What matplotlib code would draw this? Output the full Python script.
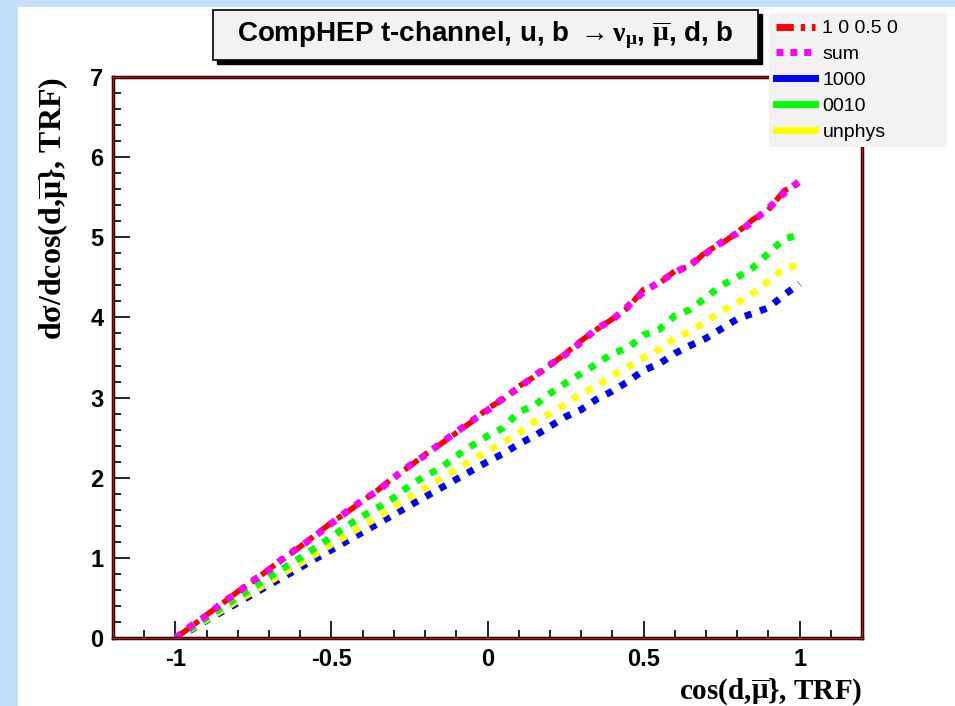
import numpy as np
import matplotlib.pyplot as plt
from matplotlib.patches import Rectangle
from matplotlib.lines import Line2D

plt.rcParams['mathtext.fontset'] = 'custom'
plt.rcParams['mathtext.rm'] = 'Liberation Serif:bold'
plt.rcParams['mathtext.it'] = 'Liberation Serif:italic:bold'
plt.rcParams['mathtext.bf'] = 'Liberation Serif:bold'

# data
x = np.round(np.arange(-1.0, 1.0001, 0.05), 2)
red = [0.00, 0.14, 0.29, 0.43, 0.58, 0.71, 0.86, 1.00, 1.14, 1.29, 1.44,
       1.57, 1.71, 1.85, 2.01, 2.14, 2.29, 2.42, 2.56, 2.70, 2.86,
       2.98, 3.14, 3.26, 3.40, 3.55, 3.71, 3.85, 3.98, 4.12, 4.35,
       4.42, 4.58, 4.64, 4.82, 4.92, 5.06, 5.22, 5.34, 5.58, 5.68]
summ = [0.00, 0.15, 0.28, 0.44, 0.57, 0.72, 0.85, 1.01, 1.14, 1.28, 1.43,
        1.58, 1.72, 1.84, 2.00, 2.15, 2.28, 2.43, 2.57, 2.71, 2.84,
        2.99, 3.12, 3.27, 3.41, 3.54, 3.69, 3.86, 3.97, 4.14, 4.32,
        4.44, 4.56, 4.66, 4.80, 4.94, 5.05, 5.20, 5.36, 5.55, 5.70]
green = [0.00, 0.12, 0.25, 0.38, 0.51, 0.63, 0.76, 0.88, 1.00, 1.13, 1.26,
         1.40, 1.52, 1.63, 1.75, 1.90, 2.02, 2.12, 2.27, 2.40, 2.52,
         2.62, 2.82, 2.90, 3.05, 3.18, 3.30, 3.42, 3.55, 3.62, 3.78,
         3.85, 4.02, 4.10, 4.25, 4.40, 4.50, 4.62, 4.80, 4.98, 5.03]
yellow = [0.00, 0.11, 0.23, 0.35, 0.47, 0.58, 0.70, 0.82, 0.93, 1.05, 1.17,
          1.28, 1.40, 1.51, 1.63, 1.75, 1.87, 1.98, 2.10, 2.22, 2.33,
          2.44, 2.56, 2.70, 2.80, 2.92, 3.05, 3.14, 3.28, 3.38, 3.50,
          3.60, 3.74, 3.83, 3.95, 4.08, 4.18, 4.30, 4.45, 4.62, 4.65]
blue = [0.00, 0.10, 0.22, 0.33, 0.44, 0.55, 0.66, 0.77, 0.88, 0.99, 1.10,
        1.21, 1.32, 1.43, 1.54, 1.65, 1.76, 1.87, 1.98, 2.09, 2.20,
        2.30, 2.42, 2.52, 2.64, 2.76, 2.85, 2.98, 3.08, 3.20, 3.34,
        3.42, 3.55, 3.65, 3.74, 3.86, 3.98, 4.05, 4.12, 4.28, 4.42]
labels = ['1 0 0.5 0', 'sum', '1000', '0010', 'unphys']

fig = plt.figure(figsize=(9.55, 7.06), dpi=100, facecolor='#c4dffa')
fig.patches.append(Rectangle((18/955, 0), 1, 1 - 7/706, transform=fig.transFigure,
                             facecolor='white', edgecolor='none', zorder=-10))

ax = fig.add_axes([113/955, 68/706, 749/955, 561/706])
dot = (0, (1, 1.3))
ax.plot(x, blue, color='#0000ff', lw=5, ls=dot, dash_capstyle='butt')
ax.plot(x, yellow, color='#ffff00', lw=5, ls=dot, dash_capstyle='butt')
ax.plot(x, green, color='#00ff00', lw=5, ls=dot, dash_capstyle='butt')
ax.plot(x, red, color='#ff0000', lw=4, ls=(0, (3, 1.2, 1, 1.2)), dash_capstyle='butt')
ax.plot(x, summ, color='#ff00ff', lw=5, ls=dot, dash_capstyle='butt')

ax.set_xlim(-1.2, 1.2)
ax.set_ylim(0, 7)
ax.set_xticks([-1, -0.5, 0, 0.5, 1])
ax.set_xticklabels(['-1', '-0.5', '0', '0.5', '1'])
ax.set_xticks(np.arange(-1.1, 1.15, 0.1), minor=True)
ax.set_yticks(range(8))
ax.set_yticks(np.arange(0, 7, 0.2), minor=True)
ax.tick_params(which='major', direction='in', length=12, width=1.2, pad=7,
               labelsize=17)
ax.tick_params(which='minor', direction='in', length=6, width=1.2)
for lab in ax.get_xticklabels() + ax.get_yticklabels():
    lab.set_fontweight('bold')
    lab.set_fontfamily('Liberation Sans')
for s in ax.spines.values():
    s.set_color('black')
    s.set_linewidth(2.5)
# red inner frame line
for xs, ys in [([0, 1], [0, 0]), ([0, 1], [1, 1]), ([0, 0], [0, 1]), ([1, 1], [0, 1])]:
    ax.plot(xs, ys, transform=ax.transAxes, color='#e00000', lw=1, clip_on=False, zorder=5)

ax.set_xlabel(r'cos(d,$\overline{\mathrm{\mu}}$}, TRF)', fontsize=21,
              fontfamily='Liberation Serif', fontweight='bold', loc='right', labelpad=4)
ax.set_ylabel(r'd$\mathrm{\sigma}$/dcos(d,$\overline{\mathrm{\mu}}$}, TRF)', fontsize=23,
              fontfamily='Liberation Serif', fontweight='bold', loc='top', labelpad=14)

# title box with shadow
fig.patches.append(Rectangle((217/955, 1 - 64/706), 545/955, 50/706, transform=fig.transFigure,
                             facecolor='black', edgecolor='black', zorder=5))
fig.patches.append(Rectangle((213/955, 1 - 60/706), 545/955, 50/706, transform=fig.transFigure,
                             facecolor='#f2f2f2', edgecolor='black', lw=1.2, zorder=6))
fig.text(485/955, 1 - 35/706,
         r'CompHEP t-channel, u, b $\rightarrow\mathrm{\nu_{\mu}}$, $\overline{\mathrm{\mu}}$, d, b',
         ha='center', va='center', fontsize=20, fontweight='bold',
         fontfamily='Liberation Sans', zorder=7)

handles = [Line2D([], [], color='#ff0000', lw=5, ls=(0, (2.5, 1, 0.6, 1))),
           Line2D([], [], color='#ff00ff', lw=5, ls=(0, (1, 1))),
           Line2D([], [], color='#0000ff', lw=5),
           Line2D([], [], color='#00ff00', lw=5),
           Line2D([], [], color='#ffff00', lw=5)]
leg = fig.legend(handles, labels, loc='upper left',
                 bbox_to_anchor=(769/955, 1 - 147/706, 178/955, 134/706), mode='expand',
                 frameon=True, facecolor='#f2f2f2', edgecolor='none', fancybox=False,
                 framealpha=1, fontsize=14, handlelength=2.0, labelspacing=0.42,
                 borderpad=0.35, handletextpad=0.4, borderaxespad=0)
leg.set_zorder(8)
for t in leg.get_texts():
    t.set_fontfamily('Liberation Sans')

fig.savefig('out.png', dpi=100, facecolor=fig.get_facecolor())
